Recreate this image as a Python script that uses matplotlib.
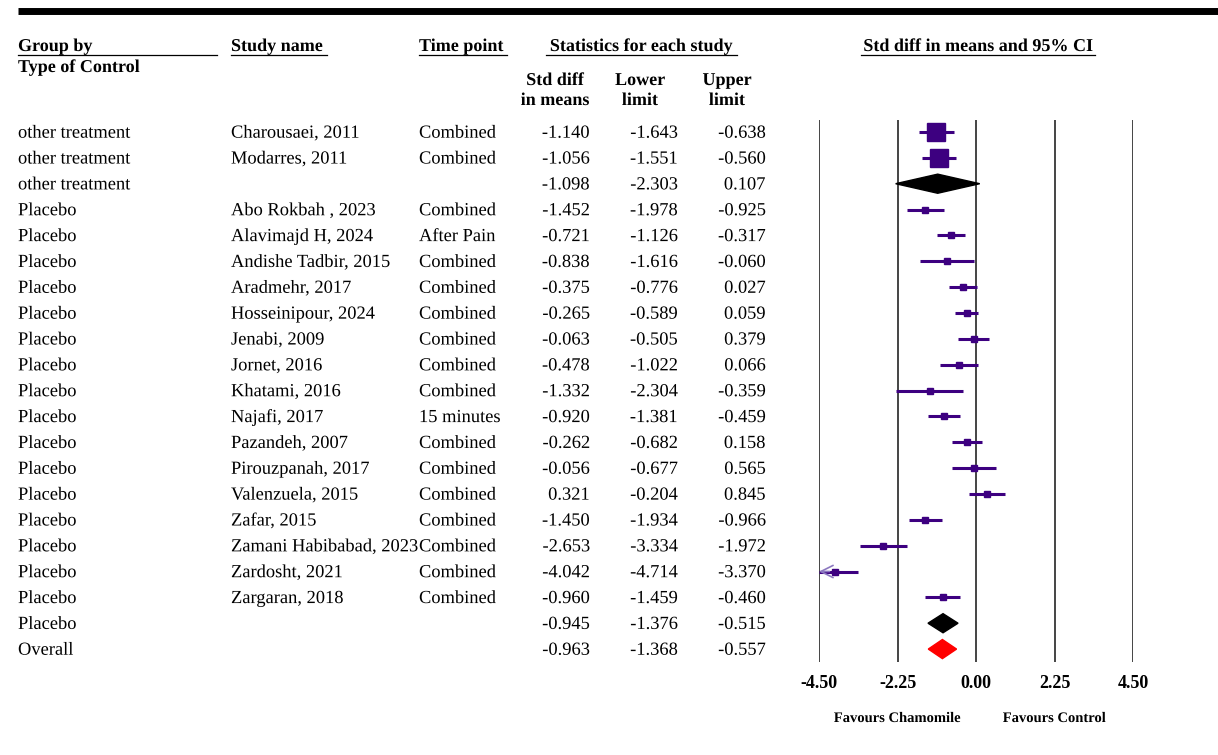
import numpy as np
import matplotlib.pyplot as plt
import matplotlib.patheffects as pe
from matplotlib.patches import Polygon
from matplotlib.transforms import blended_transform_factory

plt.rcParams['font.family'] = ['Liberation Serif', 'DejaVu Serif']

# ---- data ----
groups = ['other treatment', 'other treatment', 'other treatment'] + ['Placebo'] * 17 + ['Overall']
studies = ['Charousaei, 2011', 'Modarres, 2011', '',
           'Abo Rokbah , 2023', 'Alavimajd H, 2024', 'Andishe Tadbir, 2015',
           'Aradmehr, 2017', 'Hosseinipour, 2024', 'Jenabi, 2009', 'Jornet, 2016',
           'Khatami, 2016', 'Najafi, 2017', 'Pazandeh, 2007', 'Pirouzpanah, 2017',
           'Valenzuela, 2015', 'Zafar, 2015', 'Zamani Habibabad, 2023',
           'Zardosht, 2021', 'Zargaran, 2018', '', '']
time_points = ['Combined', 'Combined', '',
               'Combined', 'After Pain', 'Combined', 'Combined', 'Combined',
               'Combined', 'Combined', 'Combined', '15 minutes', 'Combined',
               'Combined', 'Combined', 'Combined', 'Combined', 'Combined',
               'Combined', '', '']
std_diff = [-1.140, -1.056, -1.098, -1.452, -0.721, -0.838, -0.375, -0.265,
            -0.063, -0.478, -1.332, -0.920, -0.262, -0.056, 0.321, -1.450,
            -2.653, -4.042, -0.960, -0.945, -0.963]
lower = [-1.643, -1.551, -2.303, -1.978, -1.126, -1.616, -0.776, -0.589,
         -0.505, -1.022, -2.304, -1.381, -0.682, -0.677, -0.204, -1.934,
         -3.334, -4.714, -1.459, -1.376, -1.368]
upper = [-0.638, -0.560, 0.107, -0.925, -0.317, -0.060, 0.027, 0.059,
         0.379, 0.066, -0.359, -0.459, 0.158, 0.565, 0.845, -0.966,
         -1.972, -3.370, -0.460, -0.515, -0.557]
kinds = ['study', 'study', 'subtotal'] + ['study'] * 16 + ['subtotal', 'overall']
# relative weight within subgroup (%), drives square size
weights = [50, 50, 0] + [6.25] * 16 + [0, 0]
ticks = [-4.50, -2.25, 0.00, 2.25, 4.50]

purple = '#3d0080'
W, H = 1218, 755
fig = plt.figure(figsize=(W / 100, H / 100), dpi=100)

# text layer in pixel coords
tx = fig.add_axes([0, 0, 1, 1])
tx.set_xlim(0, W)
tx.set_ylim(H, 0)
tx.axis('off')

# forest panel
x0, x1, y0, y1 = 819, 1133, 120, 662
ax = fig.add_axes([x0 / W, (H - y1) / H, (x1 - x0) / W, (y1 - y0) / H])
ax.set_facecolor('none')
ax.set_xlim(-4.5, 4.5)
ax.set_ylim(20.5, -0.464)
for s in ax.spines.values():
    s.set_visible(False)
ax.set_yticks([])
ax.set_xticks(ticks)
ax.set_xticklabels(['%.2f' % t for t in ticks], fontsize=13, fontweight='bold')
ax.tick_params(axis='x', length=0, pad=9)

for t in ticks:
    ax.axvline(t, color='#444444', lw=1.4, zorder=1)

for i, kind in enumerate(kinds):
    es, lo, hi = std_diff[i], lower[i], upper[i]
    if kind == 'study':
        ax.plot([max(lo, -4.5), hi], [i, i], color=purple, lw=2.2,
                solid_capstyle='butt', zorder=3, clip_on=False)
        ax.plot(es, i, marker='s', ms=1.85 * np.sqrt(weights[i]), color=purple,
                zorder=4, clip_on=False)
        if lo < -4.5:
            ax.annotate('', xy=(-4.5, i), xytext=(-4.2, i),
                        arrowprops=dict(arrowstyle='->', color='#8c78c0', lw=1.2,
                                        mutation_scale=22, shrinkA=0, shrinkB=0),
                        annotation_clip=False, zorder=5)
    else:
        col = 'red' if kind == 'overall' else 'black'
        dh = 0.37
        ax.add_patch(Polygon([[lo, i], [es, i - dh], [hi, i], [es, i + dh]],
                             closed=True, color=col, zorder=4, clip_on=False))

# ---- table text (baseline sits ~0.22 row below row centre) ----
# drawn as paths so all baselines line up exactly
flat = [pe.Normal()]
row_tr = blended_transform_factory(tx.transData, ax.transData)
fs = 13.3
bl = 0.22
rt = dict(transform=row_tr, va='baseline', fontsize=fs, path_effects=flat)
for i in range(len(kinds)):
    y = i + bl
    tx.text(18, y, groups[i], **rt)
    tx.text(231, y, studies[i], **rt)
    tx.text(419, y, time_points[i], **rt)
    tx.text(590, y, '%.3f' % std_diff[i], ha='right', **rt)
    tx.text(678, y, '%.3f' % lower[i], ha='right', **rt)
    tx.text(766, y, '%.3f' % upper[i], ha='right', **rt)

# ---- headers ----
tx.plot([18, W], [11, 11], color='black', lw=5, solid_capstyle='butt')
hb = dict(fontsize=13, fontweight='bold', va='baseline', path_effects=flat)
tx.text(18, 51, 'Group by', **hb)
tx.text(18, 72, 'Type of Control', **hb)
tx.text(231, 51, 'Study name', **hb)
tx.text(419, 51, 'Time point', **hb)
tx.text(641, 51, 'Statistics for each study', ha='center', **hb)
tx.text(978, 51, 'Std diff in means and 95% CI', ha='center', **hb)
for xc, top, bot in [(555, 'Std diff', 'in means'), (640, 'Lower', 'limit'),
                     (727, 'Upper', 'limit')]:
    tx.text(xc, 85, top, ha='center', **hb)
    tx.text(xc, 105, bot, ha='center', **hb)
for a, b in [(18, 217), (231, 327), (419, 507), (546, 737), (861, 1095)]:
    tx.plot([a, b], [55, 55], color='black', lw=0.9)

fav_tr = blended_transform_factory(ax.transData, tx.transData)
tx.text(-2.25, 722, 'Favours Chamomile', transform=fav_tr, ha='center',
        va='baseline', fontsize=10.5, fontweight='bold', path_effects=flat)
tx.text(2.25, 722, 'Favours Control', transform=fav_tr, ha='center',
        va='baseline', fontsize=10.5, fontweight='bold', path_effects=flat)

fig.savefig('out.png', dpi=100)
